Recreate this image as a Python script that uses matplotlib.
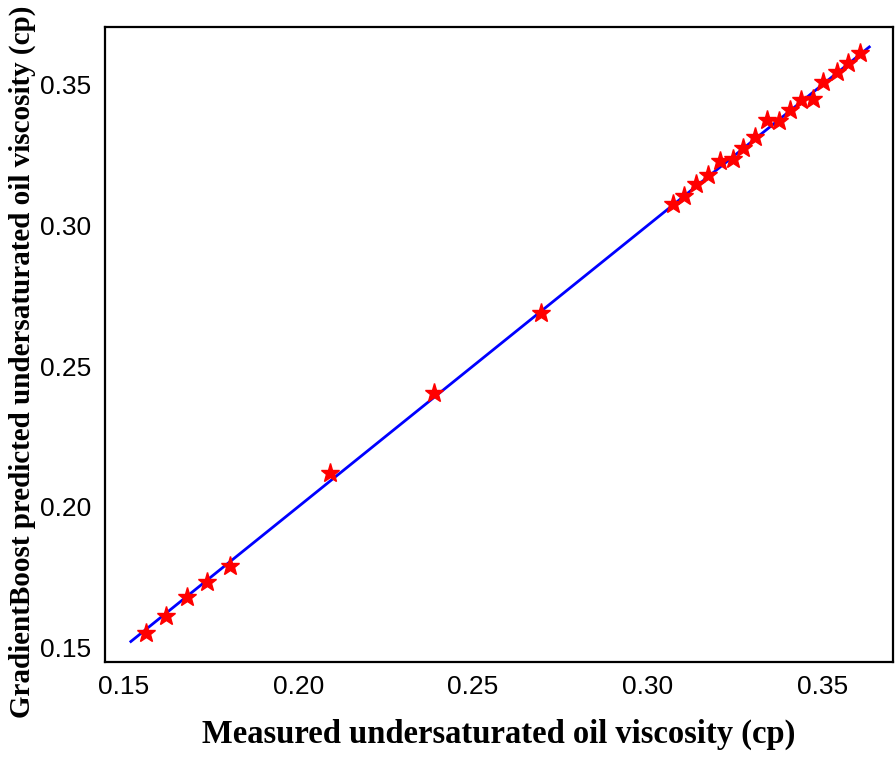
import matplotlib
matplotlib.use("Agg")
import matplotlib.pyplot as plt
import numpy as np

# measured vs predicted undersaturated oil viscosity (cp)
measured = [0.1563, 0.1620, 0.1681, 0.1738, 0.1804, 0.2090, 0.2388, 0.2695,
            0.3073, 0.3105, 0.3139, 0.3173, 0.3208, 0.3245, 0.3274, 0.3308,
            0.3342, 0.3377, 0.3408, 0.3440, 0.3474, 0.3503, 0.3543, 0.3575,
            0.3609]
predicted = [0.1550, 0.1610, 0.1678, 0.1731, 0.1788, 0.2119, 0.2404, 0.2689,
             0.3077, 0.3105, 0.3148, 0.3180, 0.3230, 0.3237, 0.3276, 0.3315,
             0.3375, 0.3372, 0.3411, 0.3447, 0.3450, 0.3511, 0.3546, 0.3578,
             0.3614]
fit_line = [0.152, 0.3635]
ticks = [0.15, 0.20, 0.25, 0.30, 0.35]

fig = plt.figure(figsize=(8.96, 7.69), dpi=100)
ax = fig.add_axes([0.1172, 0.1391, 0.8795, 0.8258])

ax.plot(fit_line, fit_line, color='blue', linewidth=2.0, zorder=2)
ax.plot(measured, predicted, linestyle='none', marker='*', markersize=14,
        color='red', markeredgecolor='red', zorder=3)

ax.set_xlim(0.1446, 0.3703)
ax.set_ylim(0.1447, 0.3706)
ax.set_xticks(ticks)
ax.set_yticks(ticks)
ax.set_xticklabels([f"{t:.2f}" for t in ticks], family='Liberation Sans', fontsize=19)
ax.set_yticklabels([f"{t:.2f}" for t in ticks], family='Liberation Sans', fontsize=19)
ax.tick_params(axis='both', length=0)
ax.tick_params(axis='x', pad=9)
ax.tick_params(axis='y', pad=10)

for s in ax.spines.values():
    s.set_linewidth(1.6)
    s.set_color('black')

ax.set_xlabel('Measured undersaturated oil viscosity (cp)', family='Liberation Serif',
              fontweight='bold', fontsize=23.5)
ax.xaxis.set_label_coords(0.5, -0.09)
ax.set_ylabel('GradientBoost predicted undersaturated oil viscosity (cp)',
              family='Liberation Serif', fontweight='bold', fontsize=21)
ax.yaxis.set_label_coords(-0.088, 0.472)

fig.savefig('out.png', dpi=100)
